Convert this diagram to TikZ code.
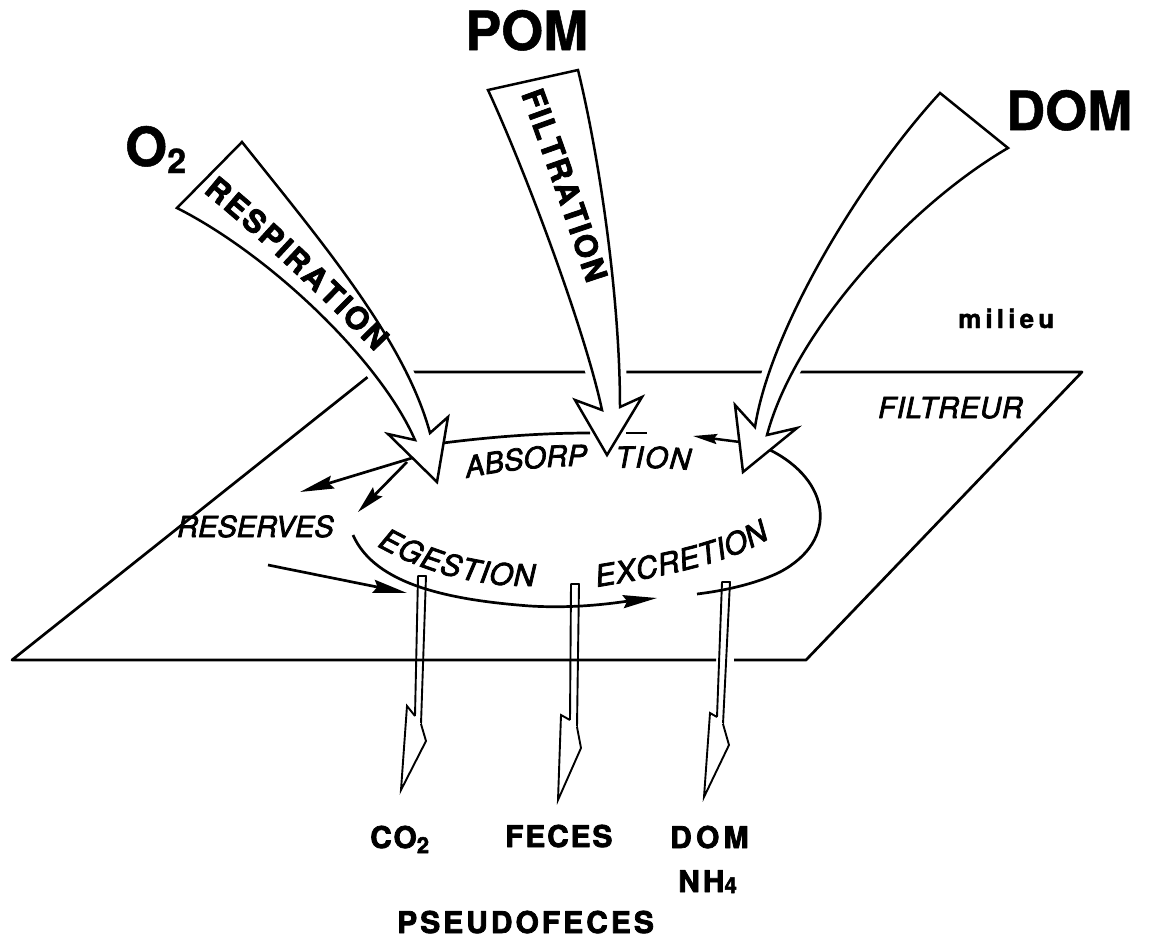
\documentclass[tikz,border=0pt]{standalone}
\usepackage{fontspec}
\setmainfont{TeX Gyre Heros}
\usetikzlibrary{arrows.meta,decorations.text}
\begin{document}
\begin{tikzpicture}[x=1pt,y=-1pt,line join=round,
  ln/.style={line width=2.7pt},
  bigarrow/.style={preaction={draw=white,line width=14pt,line join=round},
    draw=black,fill=white,line width=2.5pt,line join=miter},
  flow/.style={line width=2.7pt,-{Stealth[length=34pt,width=13pt,inset=4pt]}},
  shortflow/.style={line width=2.7pt,-{Stealth[length=28pt,width=13pt,inset=4pt]}},
  tinyflow/.style={line width=2.5pt,-{Stealth[length=24pt,width=10pt,inset=3pt]}},
  shaft/.style={line width=1.9pt},
  thinhead/.style={draw=black,fill=white,line width=1.9pt,line join=miter},
  lab/.style={inner sep=0pt,anchor=base west},
  toplab/.style={lab,font=\fontsize{54}{54}\selectfont\bfseries\addfontfeature{FakeBold=1}},
  botlab/.style={lab,font=\fontsize{30}{30}\selectfont\bfseries\addfontfeature{FakeBold=2.5}},
  itlab/.style={lab,font=\fontsize{29}{29}\selectfont\itshape\addfontfeature{FakeBold=2.5}},
]
\useasboundingbox (0,0) rectangle (1157,943);

% ---- plane (FILTREUR)
\coordinate (PTL) at (374,372);
\coordinate (PTR) at (1082,372);
\coordinate (PBR) at (806,660);
\coordinate (PBL) at (12,660);
\coordinate (PBgapL) at (716,660);
\coordinate (PBgapR) at (734,660);
\draw[ln] (PBgapL) -- (PBL) -- (PTL) -- (PTR) -- (PBR) -- (PBgapR);

% ---- big incoming arrows
% respiration
\draw[bigarrow] (242,142) .. controls (320,240) and (405,340) .. (430,433)
  -- (448,417) -- (437,482) -- (388,434) -- (415,440)
  .. controls (380,360) and (270,255) .. (177,208) -- cycle;
% filtration
\draw[bigarrow] (488,90) .. controls (525,170) and (585,330) .. (602,410)
  -- (575,400) -- (607,455) -- (642,397) -- (620,407)
  .. controls (620,300) and (600,160) .. (578,70) -- cycle;
% DOM
\draw[bigarrow] (940,93) .. controls (860,180) and (770,330) .. (755,427)
  -- (735,405) -- (743,472) -- (797,428) -- (767,435)
  .. controls (795,330) and (910,205) .. (1008,148) -- cycle;

% ---- internal cycle
\coordinate (Rhead) at (443,443);
\coordinate (Ptl) at (590,433);
\coordinate (Ptr) at (626,433);
\coordinate (Pte) at (647,433);
\coordinate (Dleft) at (740,442);
\coordinate (Dtip) at (693,436);
\coordinate (Dright) at (770,450);
\coordinate (Rend) at (697,594);
\coordinate (Bstart) at (353,535);
\coordinate (Bend) at (657,598);
\coordinate (Lstart) at (268,565);
\coordinate (Lend) at (407,593);
\coordinate (Rs1) at (412,458);
\coordinate (Rs1e) at (300,492);
\coordinate (Rs2) at (407,462);
\coordinate (Rs2e) at (358,512);

\draw[ln] (Rhead) .. controls (490,437) and (540,433) .. (Ptl);
\draw[ln] (Ptr) -- (Pte);
\draw[tinyflow] (Dleft) -- (Dtip);
\draw[ln] (Dright) .. controls (830,480) and (840,540) .. (780,572)
  .. controls (760,582) and (730,590) .. (Rend);
\draw[flow] (Bstart) .. controls (375,585) and (450,600) .. (530,606)
  .. controls (580,609) and (620,602) .. (Bend);
\draw[flow] (Lstart) -- (Lend);
\draw[flow] (Rs1) -- (Rs1e);
\draw[shortflow] (Rs2) -- (Rs2e);

% ---- outgoing thin arrows
\draw[shaft] (415,716) -- (418,576) -- (426,576) -- (421,724);
\draw[thinhead] (415,716) -- (407,706) -- (401,790) -- (426,741) -- (421,724);
\draw[shaft] (570,720) -- (571,584) -- (579,584) -- (577,727);
\draw[thinhead] (570,720) -- (561,715) -- (558,800) -- (581,748) -- (577,727);
\draw[shaft] (717,717) -- (722,582) -- (730,582) -- (723,724);
\draw[thinhead] (717,717) -- (710,713) -- (704,797) -- (729,745) -- (723,724);

% ---- texts along the arrows and the cycle
\path[decorate,decoration={text along path,
  text={|\fontsize{31}{31}\selectfont\bfseries\addfontfeature{FakeBold=2.5}|RESPIRATION},text align=fit to path}]
  (203,192) .. controls (261,239) and (319,295) .. (375,352);
\path[decorate,decoration={text along path,
  text={|\fontsize{31}{31}\selectfont\bfseries\addfontfeature{FakeBold=2.5}|FILTRATION},text align=fit to path}]
  (521,94) .. controls (544,157) and (566,220) .. (587,284);
\path[decorate,decoration={text along path,
  text={|\fontsize{29}{29}\selectfont\itshape\addfontfeature{FakeBold=2.5}|ABSORP},text align=fit to path}]
  (467,478) .. controls (505,470) and (545,466) .. (583,466);
\path[decorate,decoration={text along path,
  text={|\fontsize{29}{29}\selectfont\itshape\addfontfeature{FakeBold=2.5}|TION},text align=fit to path}]
  (616,468) .. controls (640,467) and (665,468) .. (690,470);
\path[decorate,decoration={text along path,
  text={|\fontsize{30}{30}\selectfont\itshape\addfontfeature{FakeBold=2.5}|EGESTION},text align=fit to path}]
  (377,546) .. controls (420,570) and (470,587) .. (535,586);
\path[decorate,decoration={text along path,
  text={|\fontsize{30}{30}\selectfont\itshape\addfontfeature{FakeBold=2.5}|EXCRETION},text align=fit to path}]
  (597,587) .. controls (650,578) and (720,568) .. (770,538);

% ---- labels
\node[toplab] (lO2) at (125,166) {O\raisebox{-7pt}{\fontsize{34}{34}\selectfont 2}};
\node[toplab] (lPOM) at (465,50) {POM};
\node[toplab] (lDOM) at (1006,130) {DOM};
\node[lab,font=\fontsize{26}{26}\selectfont\bfseries\addfontfeature{FakeBold=1.5,LetterSpace=16}] (lmil) at (958,328) {milieu};
\node[itlab] (lfil) at (878,418) {\addfontfeature{LetterSpace=3}FILTREUR};
\node[itlab] (lres) at (177,537) {RESERVES};
\node[botlab] (lco2) at (370,848) {\addfontfeature{LetterSpace=6}CO\raisebox{-5pt}{\fontsize{22}{22}\selectfont 2}};
\node[botlab] (lfec) at (505,847) {\addfontfeature{LetterSpace=6}FECES};
\node[botlab] (ldom) at (670,848) {\addfontfeature{LetterSpace=14}DOM};
\node[botlab] (lnh4) at (678,892) {\addfontfeature{LetterSpace=10}NH\raisebox{-1pt}{\fontsize{22}{22}\selectfont 4}};
\node[botlab] (lpse) at (397,933) {\addfontfeature{LetterSpace=10}PSEUDOFECES};
\end{tikzpicture}
\end{document}
